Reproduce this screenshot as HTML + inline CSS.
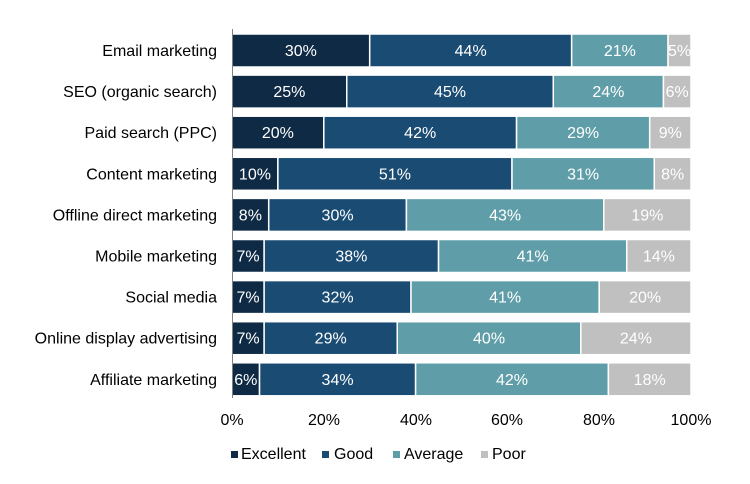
<!DOCTYPE html>
<html><head><meta charset="utf-8"><style>
html,body{margin:0;padding:0;background:#fff;}
svg{display:block;font-family:"Liberation Sans",Arial,sans-serif;}
.a{fill:#0f2a45}.b{fill:#1a4b73}.c{fill:#5f9ea8}.d{fill:#c0c0c0}
rect.s{stroke:#fff;stroke-width:1.5}
.w{fill:#fff;font-size:16px;text-anchor:middle}
.l{fill:#000;font-size:16px;text-anchor:end}
</style></head><body>
<svg width="750" height="484" xmlns="http://www.w3.org/2000/svg">
<g transform="translate(0,34)">
<text class="l" x="217" y="22">Email marketing</text>
<rect class="s a" x="232" y="0" width="137.7" height="33"/><rect class="s b" x="369.7" y="0" width="201.96" height="33"/><rect class="s c" x="571.66" y="0" width="96.39" height="33"/><rect class="s d" x="668.05" y="0" width="22.95" height="33"/>
<text class="w" x="300.85" y="22">30%</text><text class="w" x="470.68" y="22">44%</text><text class="w" x="619.86" y="22">21%</text><text class="w" x="679.53" y="22">5%</text>
</g>
<g transform="translate(0,75.1)">
<text class="l" x="217" y="22">SEO (organic search)</text>
<rect class="s a" x="232" y="0" width="114.75" height="33"/><rect class="s b" x="346.75" y="0" width="206.55" height="33"/><rect class="s c" x="553.3" y="0" width="110.16" height="33"/><rect class="s d" x="663.46" y="0" width="27.54" height="33"/>
<text class="w" x="289.38" y="22">25%</text><text class="w" x="450.03" y="22">45%</text><text class="w" x="608.38" y="22">24%</text><text class="w" x="677.23" y="22">6%</text>
</g>
<g transform="translate(0,116.2)">
<text class="l" x="217" y="22">Paid search (PPC)</text>
<rect class="s a" x="232" y="0" width="91.8" height="33"/><rect class="s b" x="323.8" y="0" width="192.78" height="33"/><rect class="s c" x="516.58" y="0" width="133.11" height="33"/><rect class="s d" x="649.69" y="0" width="41.31" height="33"/>
<text class="w" x="277.9" y="22">20%</text><text class="w" x="420.19" y="22">42%</text><text class="w" x="583.14" y="22">29%</text><text class="w" x="670.35" y="22">9%</text>
</g>
<g transform="translate(0,157.3)">
<text class="l" x="217" y="22">Content marketing</text>
<rect class="s a" x="232" y="0" width="45.9" height="33"/><rect class="s b" x="277.9" y="0" width="234.09" height="33"/><rect class="s c" x="511.99" y="0" width="142.29" height="33"/><rect class="s d" x="654.28" y="0" width="36.72" height="33"/>
<text class="w" x="254.95" y="22">10%</text><text class="w" x="394.95" y="22">51%</text><text class="w" x="583.14" y="22">31%</text><text class="w" x="672.64" y="22">8%</text>
</g>
<g transform="translate(0,198.4)">
<text class="l" x="217" y="22">Offline direct marketing</text>
<rect class="s a" x="232" y="0" width="36.72" height="33"/><rect class="s b" x="268.72" y="0" width="137.7" height="33"/><rect class="s c" x="406.42" y="0" width="197.37" height="33"/><rect class="s d" x="603.79" y="0" width="87.21" height="33"/>
<text class="w" x="250.36" y="22">8%</text><text class="w" x="337.57" y="22">30%</text><text class="w" x="505.1" y="22">43%</text><text class="w" x="647.4" y="22">19%</text>
</g>
<g transform="translate(0,239.5)">
<text class="l" x="217" y="22">Mobile marketing</text>
<rect class="s a" x="232" y="0" width="32.13" height="33"/><rect class="s b" x="264.13" y="0" width="174.42" height="33"/><rect class="s c" x="438.55" y="0" width="188.19" height="33"/><rect class="s d" x="626.74" y="0" width="64.26" height="33"/>
<text class="w" x="248.07" y="22">7%</text><text class="w" x="351.34" y="22">38%</text><text class="w" x="532.65" y="22">41%</text><text class="w" x="658.87" y="22">14%</text>
</g>
<g transform="translate(0,280.6)">
<text class="l" x="217" y="22">Social media</text>
<rect class="s a" x="232" y="0" width="32.13" height="33"/><rect class="s b" x="264.13" y="0" width="146.88" height="33"/><rect class="s c" x="411.01" y="0" width="188.19" height="33"/><rect class="s d" x="599.2" y="0" width="91.8" height="33"/>
<text class="w" x="248.07" y="22">7%</text><text class="w" x="337.57" y="22">32%</text><text class="w" x="505.1" y="22">41%</text><text class="w" x="645.1" y="22">20%</text>
</g>
<g transform="translate(0,321.7)">
<text class="l" x="217" y="22">Online display advertising</text>
<rect class="s a" x="232" y="0" width="32.13" height="33"/><rect class="s b" x="264.13" y="0" width="133.11" height="33"/><rect class="s c" x="397.24" y="0" width="183.6" height="33"/><rect class="s d" x="580.84" y="0" width="110.16" height="33"/>
<text class="w" x="248.07" y="22">7%</text><text class="w" x="330.69" y="22">29%</text><text class="w" x="489.04" y="22">40%</text><text class="w" x="635.92" y="22">24%</text>
</g>
<g transform="translate(0,362.8)">
<text class="l" x="217" y="22">Affiliate marketing</text>
<rect class="s a" x="232" y="0" width="27.54" height="33"/><rect class="s b" x="259.54" y="0" width="156.06" height="33"/><rect class="s c" x="415.6" y="0" width="192.78" height="33"/><rect class="s d" x="608.38" y="0" width="82.62" height="33"/>
<text class="w" x="245.77" y="22">6%</text><text class="w" x="337.57" y="22">34%</text><text class="w" x="511.99" y="22">42%</text><text class="w" x="649.69" y="22">18%</text>
</g>
<line x1="232.5" y1="29" x2="232.5" y2="398" stroke="#808080" stroke-width="1"/>
<g font-size="16" fill="#000" text-anchor="middle">
<text x="232" y="425">0%</text>
<text x="324" y="425">20%</text>
<text x="416" y="425">40%</text>
<text x="507" y="425">60%</text>
<text x="599" y="425">80%</text>
<text x="691" y="425">100%</text>
</g>
<g font-size="16" fill="#000">
<rect x="231" y="451" width="7" height="7" fill="#0f2a45"/><text x="241" y="459">Excellent</text>
<rect x="322" y="451" width="7" height="7" fill="#1a4b73"/><text x="334" y="459">Good</text>
<rect x="393" y="451" width="7" height="7" fill="#5f9ea8"/><text x="404" y="459">Average</text>
<rect x="481" y="451" width="7" height="7" fill="#c0c0c0"/><text x="492" y="459">Poor</text>
</g>
</svg>
</body></html>
